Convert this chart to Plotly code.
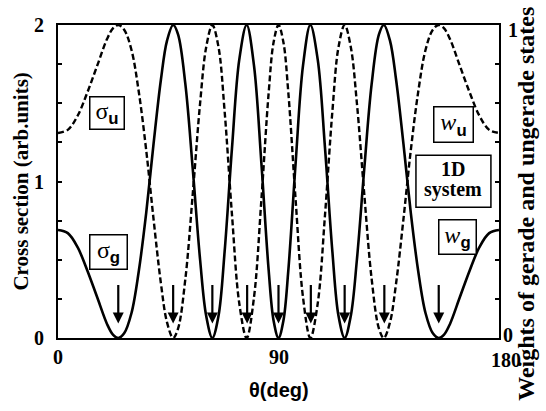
import plotly.graph_objects as go

# Emission angle (deg) and the two interference cross sections
theta_deg = [0, 4, 8, 12, 16, 20, 22.5, 24.6, 27, 30, 33, 36, 39, 42, 44.5, 47, 49, 52, 55, 58,
             60.5, 63, 65.5, 68, 71, 74, 77, 80, 83, 86, 88, 90,
             92, 94, 97, 100, 103, 106, 109, 112, 114.5, 117, 119.5, 122, 125, 128, 131, 133,
             135.5, 138, 141, 144, 147, 150, 153, 155.4, 157.5, 160, 164, 168, 172, 176, 180]

sigma_g = [0.69, 0.67, 0.58, 0.43, 0.26, 0.09, 0.02, 0.00, 0.03, 0.16, 0.43, 0.80, 1.24, 1.65, 1.90, 2.00,
           1.94, 1.62, 1.08, 0.50, 0.14, 0.00, 0.14, 0.55, 1.21, 1.78, 2.00, 1.74, 1.12, 0.43, 0.11, 0.00,
           0.11, 0.43, 1.12, 1.74, 2.00, 1.78, 1.21, 0.55, 0.14, 0.00, 0.14, 0.50, 1.08, 1.62, 1.94, 2.00,
           1.90, 1.65, 1.24, 0.80, 0.43, 0.16, 0.03, 0.00, 0.02, 0.09, 0.26, 0.43, 0.58, 0.67, 0.69]

sigma_u = [1.31, 1.33, 1.42, 1.57, 1.74, 1.91, 1.98, 2.00, 1.97, 1.84, 1.57, 1.20, 0.76, 0.35, 0.10, 0.00,
           0.06, 0.38, 0.92, 1.50, 1.86, 2.00, 1.86, 1.45, 0.79, 0.22, 0.00, 0.26, 0.88, 1.57, 1.89, 2.00,
           1.89, 1.57, 0.88, 0.26, 0.00, 0.22, 0.79, 1.45, 1.86, 2.00, 1.86, 1.50, 0.92, 0.38, 0.06, 0.00,
           0.10, 0.35, 0.76, 1.20, 1.57, 1.84, 1.97, 2.00, 1.98, 1.91, 1.74, 1.57, 1.42, 1.33, 1.31]

# Angles of the interference minima marked with arrows
node_theta = [24.6, 47.0, 63.0, 77.2, 90.0, 103.2, 117.0, 133.2, 155.4]

x_tick_vals = [0, 90, 180]
x_tick_text = ["0", "90", "180"]
left_tick_vals = [0, 0.25, 0.5, 0.75, 1, 1.25, 1.5, 1.75, 2]
left_tick_text = ["0", "", "", "", "1", "", "", "", "2"]
right_tick_vals = [0, 0.125, 0.25, 0.375, 0.5, 0.625, 0.75, 0.875, 1]
right_label_vals = [0, 1]
right_label_text = ["0", "1"]

SERIF = "Liberation Serif"
SANS = "Liberation Sans"
serif_bold = dict(family=SERIF, size=20, color="black", weight="bold")

fig = go.Figure()
fig.add_trace(go.Scatter(x=theta_deg, y=sigma_u, mode="lines", line_shape="spline",
                         line=dict(color="black", width=2.4, dash="6px,3px"),
                         showlegend=False, hoverinfo="skip"))
fig.add_trace(go.Scatter(x=theta_deg, y=sigma_g, mode="lines", line_shape="spline",
                         line=dict(color="black", width=2.6),
                         showlegend=False, hoverinfo="skip"))
# carrier for the right-hand weight axis
fig.add_trace(go.Scatter(x=[None], y=[None], yaxis="y2", showlegend=False, hoverinfo="skip"))

annotations = []

# arrows pointing at the nodes
for t in node_theta:
    annotations.append(dict(x=t, y=0.093, xref="x", yref="y", text="", showarrow=True,
                            ax=0, ay=-40, arrowhead=2, arrowsize=1, arrowwidth=2.2,
                            arrowcolor="black", standoff=0))

# x tick labels
for v, s in zip(x_tick_vals, x_tick_text):
    annotations.append(dict(x=v, y=-0.061, xref="x", yref="paper", text=s, showarrow=False,
                            xanchor="center", yanchor="middle",
                            xshift=7 if v == 180 else 0, yshift=-3 if v == 180 else 0,
                            font=serif_bold))

# right-axis labels (weights)
for v, s in zip(right_label_vals, right_label_text):
    annotations.append(dict(x=1, y=v, xref="paper", yref="y2", text=s, showarrow=False,
                            xanchor="left", yanchor="middle", xshift=2 if v == 0 else 7,
                            yshift=3 if v == 0 else -5, font=serif_bold))

# axis titles
annotations.append(dict(x=90, y=-0.166, xref="x", yref="paper", text="θ(deg)", showarrow=False,
                        xanchor="center", yanchor="middle",
                        font=dict(family=SANS, size=20, color="black", weight="bold")))
annotations.append(dict(x=-0.086, y=0.5, xref="paper", yref="paper",
                        text="Cross section (arb.units)", textangle=-90, showarrow=False,
                        xanchor="center", yanchor="middle",
                        font=dict(family=SERIF, size=21, color="black", weight="bold")))
annotations.append(dict(x=1.062, y=0.43, xref="paper", yref="paper",
                        text="Weights of gerade and ungerade states", textangle=-90, showarrow=False,
                        xanchor="center", yanchor="middle",
                        font=dict(family=SERIF, size=24, color="black", weight="bold")))

sub_style = "font-family:Liberation Sans;font-weight:bold"
boxed = [
    ("σ<sub><span style='%s'>u</span></sub>" % sub_style, 20.2, 1.44, 33, 31),
    ("σ<sub><span style='%s'>g</span></sub>" % sub_style, 20.8, 0.55, 36, 33),
    ("<i>w</i><sub><span style='%s'>u</span></sub>" % sub_style, 161.6, 1.366, 38, 34),
    ("<i>w</i><sub><span style='%s'>g</span></sub>" % sub_style, 162.9, 0.646, 36, 33),
]
for txt, x, y, w, h in boxed:
    annotations.append(dict(x=x, y=y, xref="x", yref="y", text=txt, showarrow=False,
                            xanchor="center", yanchor="middle", width=w, height=h,
                            bordercolor="black", borderwidth=1.5, borderpad=0, bgcolor="white",
                            font=dict(family=SERIF, size=24, color="black")))

# "1D system" label
annotations.append(dict(x=161.4, y=1.08, xref="x", yref="y", text="1D", showarrow=False,
                        xanchor="center", yanchor="middle",
                        font=dict(family=SERIF, size=20, color="black", weight="bold")))
annotations.append(dict(x=161.4, y=0.95, xref="x", yref="y", text="system", showarrow=False,
                        xanchor="center", yanchor="middle",
                        font=dict(family=SERIF, size=20, color="black", weight="bold")))

fig.add_shape(type="rect", xref="x", yref="y", x0=146.1, x1=176.7, y0=0.835, y1=1.168,
              line=dict(color="black", width=1.5), layer="above")

fig.update_layout(
    width=546, height=411,
    margin=dict(l=58, r=47, t=25, b=73),
    paper_bgcolor="white", plot_bgcolor="white",
    xaxis=dict(range=[0, 180], showline=True, linewidth=2, linecolor="black", mirror=True,
               ticks="", showticklabels=False, showgrid=False, zeroline=False),
    yaxis=dict(range=[0, 2], showline=True, linewidth=2, linecolor="black", mirror=True,
               ticks="inside", ticklen=4, tickwidth=1.5, tickcolor="black",
               tickvals=left_tick_vals, ticktext=left_tick_text, tickfont=serif_bold,
               ticklabelstandoff=8, showgrid=False, zeroline=False),
    yaxis2=dict(range=[0, 1], overlaying="y", side="right", showline=True, linewidth=2,
                linecolor="black", ticks="inside", ticklen=4, tickwidth=1.5, tickcolor="black",
                tickvals=right_tick_vals, showticklabels=False, showgrid=False, zeroline=False),
    annotations=annotations,
)

fig.write_html("out.html")
